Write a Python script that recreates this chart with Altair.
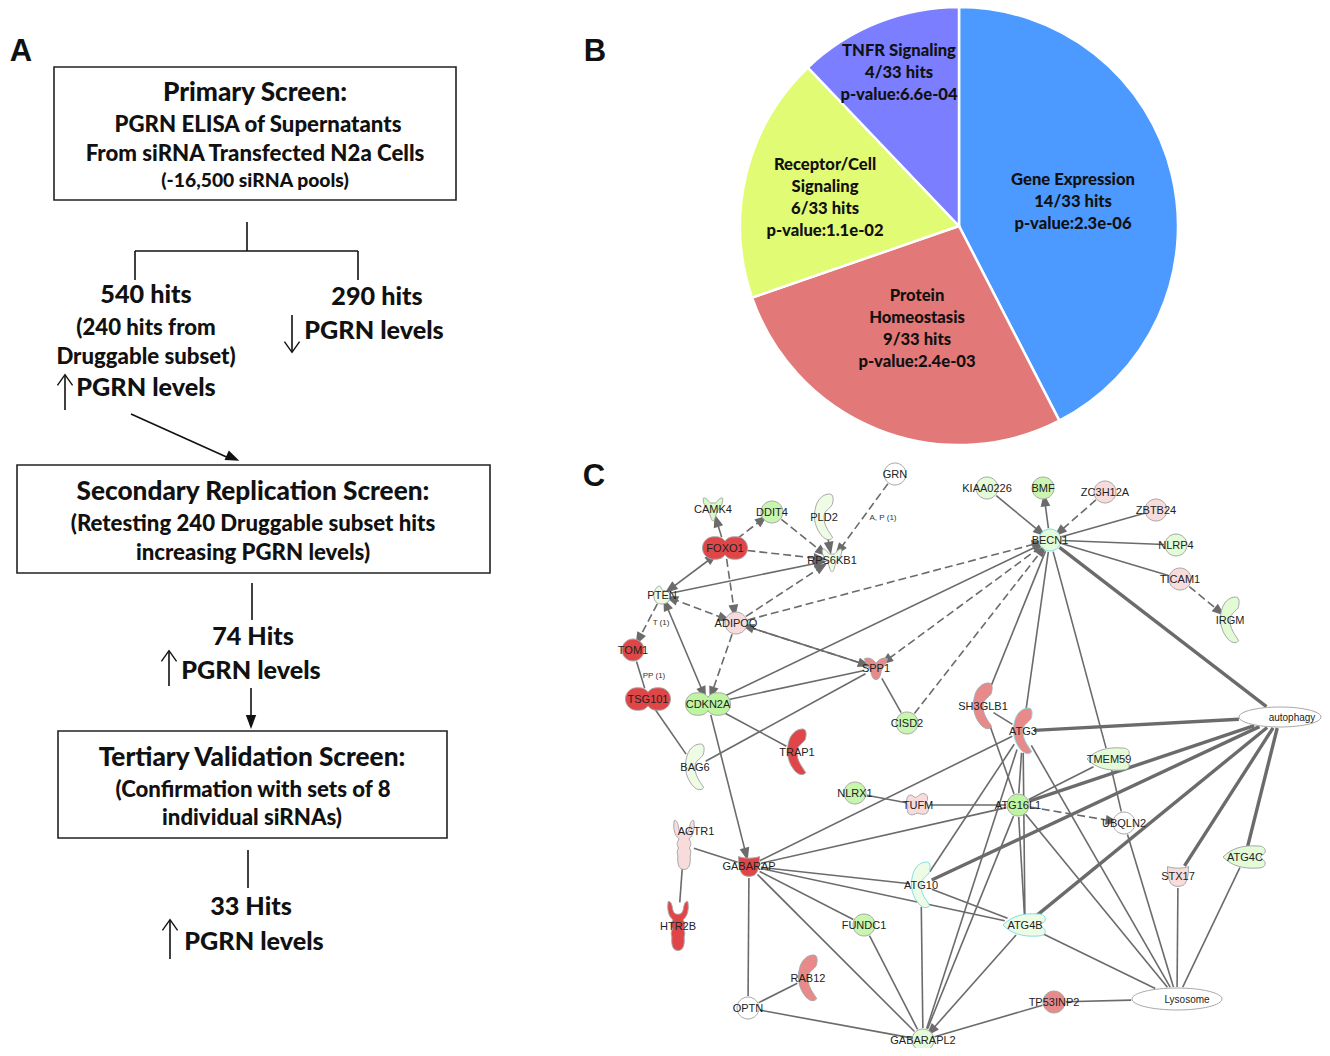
import math
import altair as alt
import pandas as pd

# ---------- panel A ----------
BOXES = [(54, 456, 67, 200), (17, 490, 465, 573), (58, 447, 731, 838)]
FLOW_LINES = [(247, 222, 247, 251), (135, 251, 358, 251), (135, 251, 135, 280), (358, 251, 358, 280),
              (65, 410, 65, 376), (292, 315, 292, 351), (131, 414, 231, 459), (252, 583, 252, 620),
              (169, 686, 169, 652), (251, 688, 251, 722), (248, 850, 248, 888), (170, 959, 170, 921)]
OPEN_HEADS = [(65, 380, 0), (292, 347, 180), (169, 656, 0), (170, 925, 0)]
SOLID_HEADS = [(233, 458, 114), (251, 722, 180)]
TITLE_TEXT = [("Primary Screen:", 255, 92), ("Secondary Replication Screen:", 253, 491),
              ("Tertiary Validation Screen:", 252, 757)]
HEAD_TEXT = [("540 hits", 146, 294), ("290 hits", 377, 296),
             ("74 Hits", 253, 636), ("33 Hits", 251, 906), ("PGRN levels", 146, 387), ("PGRN levels", 374, 330),
             ("PGRN levels", 251, 670), ("PGRN levels", 254, 941)]
SUB_TEXT = [("PGRN ELISA of Supernatants", 258, 124), ("From siRNA Transfected N2a Cells", 255, 153),
            ("(240 hits from", 146, 327), ("Druggable subset)", 146, 356),
            ("(Retesting 240 Druggable subset hits", 253, 523), ("increasing PGRN levels)", 253, 552),
            ("(Confirmation with sets of 8", 253, 789), ("individual siRNAs)", 252, 817)]
SMALL_TEXT = [("(-16,500 siRNA pools)", 255, 180)]
PANEL_TEXT = [("A", 21, 50), ("B", 595, 50), ("C", 594, 475)]

# ---------- panel B ----------
PIE_NAMES = ["Gene Expression", "Protein Homeostasis", "Receptor/Cell Signaling", "TNFR Signaling"]
PIE_HITS = [14, 9, 6, 4]
PIE_COLORS = ["#4c9aff", "#e37878", "#e2fb74", "#7a7eff"]
PIE_CENTER = (959, 226)
PIE_TEXT = [("Gene Expression", 1073, 179), ("14/33 hits", 1073, 201), ("p-value:2.3e-06", 1073, 223),
            ("Protein", 917, 295), ("Homeostasis", 917, 317), ("9/33 hits", 917, 339), ("p-value:2.4e-03", 917, 361),
            ("Receptor/Cell", 825, 164), ("Signaling", 825, 186), ("6/33 hits", 825, 208), ("p-value:1.1e-02", 825, 230),
            ("TNFR Signaling", 899, 50), ("4/33 hits", 899, 72), ("p-value:6.6e-04", 899, 94)]

# ---------- panel C ----------
R, P, PK, LP = "#e04648", "#e88a8a", "#f8dcdc", "#eefce6"
G, LG, W = "#bdf5a0", "#e4fbd8", "#ffffff"
NODES = {
    "GRN": (895, 474, "circle", W), "DDIT4": (772, 512, "circle", "#c8f6ae"), "ADIPOQ": (736, 623, "circle", PK),
    "TOM1": (633, 650, "circle", R), "CISD2": (907, 723, "circle", "#c8f6ae"), "KIAA0226": (987, 488, "circle", LG),
    "BMF": (1043, 488, "circle", "#c9f5b0"), "ZC3H12A": (1105, 492, "circle", PK), "ZBTB24": (1156, 510, "circle", PK),
    "BECN1": (1050, 540, "circle", LG), "NLRP4": (1176, 545, "circle", LG), "TICAM1": (1180, 579, "circle", PK),
    "NLRX1": (855, 793, "circle", "#c8f6ae"), "FUNDC1": (864, 925, "circle", "#c8f6ae"), "OPTN": (748, 1008, "circle", W),
    "GABARAPL2": (923, 1040, "circle", LG), "ATG16L1": (1018, 805, "circle", G), "UBQLN2": (1124, 823, "circle", W),
    "TP53INP2": (1054, 1002, "circle", P),
    "FOXO1": (725, 548, "dumbbell", R), "TSG101": (648, 699, "dumbbell", R), "CDKN2A": (708, 704, "dumbbell", G),
    "PLD2": (824, 517, "crescent", LP), "IRGM": (1230, 620, "crescent", "#e2fbd4"), "TRAP1": (797, 752, "crescent", R),
    "BAG6": (695, 767, "crescent", LP), "SH3GLB1": (983, 706, "crescent", P), "ATG3": (1023, 731, "crescent", P),
    "ATG10": (921, 885, "crescent", LP), "RAB12": (808, 978, "crescent", P),
    "CAMK4": (713, 509, "kinase", "#d8fac6"), "RPS6KB1": (832, 560, "kinase", LP), "SPP1": (876, 668, "butterfly", P),
    "AGTR1": (684, 845, "receptor", PK), "HTR2B": (678, 926, "receptor", R), "GABARAP": (749, 866, "cup", R),
    "STX17": (1178, 876, "cup", PK), "TMEM59": (1109, 759, "leaf", LG), "ATG4B": (1025, 925, "leaf", LP),
    "ATG4C": (1245, 857, "leaf", LG), "PTEN": (662, 595, "blob", LP), "TUFM": (918, 805, "peanut", PK),
    "autophagy": (1280, 717, "ellipse_small", W), "Lysosome": (1177, 999, "ellipse", W),
}
CYAN_RING = ["BECN1", "ATG3", "ATG10", "ATG4B"]
LABEL_OFFSET = {"AGTR1": (12, -14), "HTR2B": (0, 0), "autophagy": (12, 0), "Lysosome": (10, 0)}
EDGE_NOTES = [("A, P (1)", 883, 517), ("T (1)", 661, 622), ("PP (1)", 654, 675)]
SOLID = [("PTEN", "RPS6KB1"), ("PTEN", "FOXO1"), ("PTEN", "CDKN2A"), ("ADIPOQ", "SPP1"), ("CDKN2A", "BECN1"),
         ("CDKN2A", "SPP1"), ("CDKN2A", "TRAP1"), ("CDKN2A", "GABARAP"), ("BAG6", "SPP1"), ("TOM1", "TSG101"),
         ("TSG101", "BAG6"), ("SPP1", "CISD2"), ("KIAA0226", "BECN1"), ("BECN1", "BMF"), ("ZBTB24", "BECN1"),
         ("NLRP4", "BECN1"), ("TICAM1", "BECN1"), ("BECN1", "SH3GLB1"), ("BECN1", "ATG3"), ("BECN1", "TMEM59"),
         ("SH3GLB1", "ATG3"), ("SH3GLB1", "ATG16L1"), ("TMEM59", "ATG16L1"), ("TMEM59", "UBQLN2"), ("UBQLN2", "Lysosome"),
         ("ATG3", "Lysosome"), ("ATG16L1", "Lysosome"), ("STX17", "Lysosome"), ("ATG4C", "Lysosome"), ("ATG4B", "Lysosome"),
         ("TP53INP2", "Lysosome"), ("TP53INP2", "GABARAPL2"), ("ATG3", "ATG16L1"), ("ATG3", "ATG4B"), ("ATG3", "GABARAP"),
         ("ATG3", "GABARAPL2"), ("ATG3", "ATG10"), ("ATG16L1", "GABARAP"), ("ATG16L1", "GABARAPL2"), ("ATG16L1", "ATG4B"),
         ("NLRX1", "TUFM"), ("TUFM", "ATG16L1"), ("ATG10", "GABARAP"), ("ATG10", "GABARAPL2"), ("ATG10", "ATG4B"),
         ("ATG4B", "GABARAP"), ("FUNDC1", "GABARAP"), ("FUNDC1", "GABARAPL2"), ("GABARAP", "GABARAPL2"), ("GABARAP", "OPTN"),
         ("GABARAP", "AGTR1"), ("AGTR1", "HTR2B"), ("OPTN", "RAB12"), ("OPTN", "GABARAPL2"), ("ATG4B", "GABARAPL2"),
         ("FOXO1", "CAMK4"), ("PLD2", "RPS6KB1")]
DASHED = [("FOXO1", "DDIT4"), ("DDIT4", "RPS6KB1"), ("FOXO1", "RPS6KB1"), ("FOXO1", "ADIPOQ"), ("ADIPOQ", "RPS6KB1"),
          ("GRN", "RPS6KB1"), ("PTEN", "ADIPOQ"), ("PTEN", "TOM1"), ("ADIPOQ", "CDKN2A"), ("ADIPOQ", "SPP1"),
          ("ADIPOQ", "BECN1"), ("CISD2", "BECN1"), ("BECN1", "SPP1"), ("ZC3H12A", "BECN1"), ("TICAM1", "IRGM"),
          ("ATG16L1", "UBQLN2")]
THICK = [("BECN1", "autophagy"), ("ATG3", "autophagy"), ("ATG16L1", "autophagy"), ("ATG10", "autophagy"),
         ("ATG4B", "autophagy"), ("STX17", "autophagy"), ("ATG4C", "autophagy")]
ARROWS = [("PTEN", "RPS6KB1"), ("PTEN", "FOXO1"), ("FOXO1", "PTEN"), ("PTEN", "CDKN2A"), ("CDKN2A", "PTEN"),
          ("ADIPOQ", "SPP1"), ("SPP1", "ADIPOQ"), ("CDKN2A", "BECN1"), ("CDKN2A", "GABARAP"), ("KIAA0226", "BECN1"),
          ("BECN1", "BMF"), ("ATG4B", "GABARAPL2"), ("FOXO1", "CAMK4"), ("PLD2", "RPS6KB1"), ("FOXO1", "DDIT4"),
          ("DDIT4", "RPS6KB1"), ("FOXO1", "RPS6KB1"), ("FOXO1", "ADIPOQ"), ("ADIPOQ", "RPS6KB1"), ("GRN", "RPS6KB1"),
          ("PTEN", "ADIPOQ"), ("ADIPOQ", "PTEN"), ("PTEN", "TOM1"), ("ADIPOQ", "CDKN2A"), ("ADIPOQ", "BECN1"),
          ("CISD2", "BECN1"), ("BECN1", "SPP1"), ("ZC3H12A", "BECN1"), ("TICAM1", "IRGM"), ("ATG16L1", "UBQLN2")]

ELLIPSE = "M-1,0 C-1,-0.135 -0.55,-0.244 0,-0.244 C0.55,-0.244 1,-0.135 1,0 C1,0.135 0.55,0.244 0,0.244 C-0.55,0.244 -1,0.135 -1,0 Z"
SHAPES = {
    "crescent": "M0.24,-1 C0.42,-1 0.42,-0.75 0.36,-0.55 C0.26,-0.35 0,-0.3 0,0 C0,0.4 0.2,0.6 0.38,0.9 C0.25,1.05 0.03,1 -0.15,0.75 C-0.45,0.35 -0.45,-0.1 -0.37,-0.4 C-0.3,-0.75 -0.05,-1 0.24,-1 Z",
    "dumbbell": "M0,-0.3 C0.15,-0.5 0.3,-0.5 0.5,-0.5 C0.78,-0.5 1,-0.28 1,0 C1,0.28 0.78,0.5 0.5,0.5 C0.3,0.5 0.15,0.5 0,0.3 C-0.15,0.5 -0.3,0.5 -0.5,0.5 C-0.78,0.5 -1,0.28 -1,0 C-1,-0.28 -0.78,-0.5 -0.5,-0.5 C-0.3,-0.5 -0.15,-0.5 0,-0.3 Z",
    "kinase": "M-0.8,-0.9 C-0.5,-1 -0.4,-0.6 -0.2,-0.5 L0.2,-0.5 C0.4,-0.6 0.5,-1 0.8,-0.9 C0.9,-0.4 0.5,-0.1 0.3,0.3 C0.2,0.7 0.1,1 0,1 C-0.1,1 -0.2,0.7 -0.3,0.3 C-0.5,-0.1 -0.9,-0.4 -0.8,-0.9 Z",
    "butterfly": "M-1,-0.8 C-0.6,-1 -0.2,-0.7 0,-0.4 C0.2,-0.7 0.6,-1 1,-0.8 C0.9,-0.3 0.5,0 0.45,0.3 C0.4,0.6 0.3,1 0,1 C-0.3,1 -0.4,0.6 -0.45,0.3 C-0.5,0 -0.9,-0.3 -1,-0.8 Z",
    "receptor": "M-0.4,-1 C-0.3,-1.02 -0.25,-0.9 -0.22,-0.7 C-0.18,-0.5 -0.1,-0.48 0,-0.48 C0.1,-0.48 0.18,-0.5 0.22,-0.7 C0.25,-0.9 0.3,-1.02 0.4,-1 C0.45,-0.7 0.4,-0.4 0.2,-0.25 C0.3,-0.1 0.3,0 0.22,0.12 C0.3,0.25 0.28,0.35 0.25,0.45 C0.28,0.8 0.2,1 0,1 C-0.2,1 -0.28,0.8 -0.25,0.45 C-0.28,0.35 -0.3,0.25 -0.22,0.12 C-0.3,0 -0.3,-0.1 -0.2,-0.25 C-0.4,-0.4 -0.45,-0.7 -0.4,-1 Z",
    "cup": "M-1,-0.9 C-0.5,-0.7 0.5,-0.7 1,-0.9 C1,-0.2 0.9,0.5 0.6,0.8 C0.3,1.05 -0.3,1.05 -0.6,0.8 C-0.9,0.5 -1,-0.2 -1,-0.9 Z",
    "leaf": "M-1,0 C-0.6,-0.4 -0.1,-0.55 0.6,-0.5 C1,-0.5 1,-0.15 0.75,-0.08 L0.7,0 L0.75,0.08 C1,0.2 1,0.5 0.6,0.5 C-0.1,0.55 -0.6,0.4 -1,0 Z",
    "blob": "M-0.9,0.2 C-1,-0.3 -0.6,-1 -0.3,-1 C-0.1,-1 -0.1,-0.5 0.2,-0.5 C0.7,-0.5 1,-0.1 0.9,0.3 C0.8,0.9 0.3,1 -0.1,1 C-0.5,1 -0.85,0.7 -0.9,0.2 Z",
    "peanut": "M-1,-0.3 C-1,-0.9 -0.6,-1 -0.35,-0.7 C-0.1,-0.55 0,-0.9 0.4,-1 C0.9,-1 0.9,-0.5 0.75,-0.3 C1,0.1 1,0.8 0.5,0.8 C0.2,0.85 0,0.6 -0.2,0.75 C-0.6,1 -1,0.8 -0.9,0.3 C-0.8,0.1 -1,0 -1,-0.3 Z",
    "ellipse": ELLIPSE, "ellipse_small": ELLIPSE,
    "circle": "M-1,0 C-1,-0.55 -0.55,-1 0,-1 C0.55,-1 1,-0.55 1,0 C1,0.55 0.55,1 0,1 C-0.55,1 -1,0.55 -1,0 Z",
}
GLYPH_SPAN = {"crescent": 46, "dumbbell": 45, "kinase": 24, "butterfly": 23, "receptor": 49, "cup": 21, "leaf": 44,
              "blob": 18, "peanut": 23, "ellipse": 90, "ellipse_small": 82, "circle": 22}
EXTENT = {"crescent": (11, 22), "dumbbell": (23, 11), "kinase": (12, 12), "butterfly": (12, 12), "receptor": (10, 24),
          "cup": (12, 12), "leaf": (22, 11), "blob": (10, 10), "peanut": (12, 12), "ellipse": (46, 12),
          "ellipse_small": (42, 11), "circle": (12, 12)}

XS = alt.Scale(domain=[8, 1322], nice=False, zero=False)
YS = alt.Scale(domain=[8, 1048], nice=False, zero=False, reverse=True)
GRAY = "#6b6b6b"
X = alt.X("x:Q", scale=XS, axis=None)
Y = alt.Y("y:Q", scale=YS, axis=None)


def text_layer(rows, size, font, weight="bold", color="#111111", dy=0):
    df = pd.DataFrame(rows, columns=["t", "x", "y"])
    return alt.Chart(df).mark_text(fontSize=size, font=font, fontWeight=weight, align="center",
                                   baseline="middle", color=color, dy=dy).encode(x=X, y=Y, text="t:N")


def seg_layer(rows, width, color, dash=None):
    df = pd.DataFrame(rows, columns=["x", "y", "x2", "y2"])
    kw = {"strokeDash": dash} if dash else {}
    return alt.Chart(df).mark_rule(strokeWidth=width, color=color, **kw).encode(
        x=X, y=Y, x2="x2:Q", y2="y2:Q")


def head_layer(rows, path, size, filled, color):
    df = pd.DataFrame(rows, columns=["x", "y", "a"])
    return alt.Chart(df).mark_point(shape=path, size=size, filled=filled, opacity=1, color=color,
                                    strokeWidth=1.4).encode(x=X, y=Y, angle=alt.Angle("a:Q", scale=None))


def trim(n, ox, oy):
    x, y, kind, _ = NODES[n]
    dx, dy = ox - x, oy - y
    hw, hh = EXTENT[kind]
    t = 1 / max(1e-6, math.hypot(dx / hw, dy / hh))
    return x + dx * t, y + dy * t


def segment(a, b):
    ax, ay = NODES[a][:2]
    bx, by = NODES[b][:2]
    return (*trim(a, bx, by), *trim(b, ax, ay))


def arrow(a, b):
    x1, y1, x2, y2 = segment(a, b)
    return x2, y2, (math.degrees(math.atan2(x2 - x1, y1 - y2)) + 360) % 360


box_df = pd.DataFrame(BOXES, columns=["x", "x2", "y", "y2"])
boxes = alt.Chart(box_df).mark_rect(fillOpacity=0, stroke="#222222", strokeWidth=1.6).encode(x=X, x2="x2:Q", y=Y, y2="y2:Q")

pie_df = pd.DataFrame({"name": PIE_NAMES, "hits": PIE_HITS, "col": PIE_COLORS, "k": range(4),
                       "x": PIE_CENTER[0], "y": PIE_CENTER[1]})
pie = alt.Chart(pie_df).mark_arc(outerRadius=219, stroke="#ffffff", strokeWidth=2.5).encode(
    x=X, y=Y, theta=alt.Theta("hits:Q", stack=True), order=alt.Order("k:Q"),
    fill=alt.Fill("col:N", scale=None))

head_path = "M0,-1 L0.75,1 L-0.75,1 Z"
layers = [boxes, seg_layer(FLOW_LINES, 1.6, "#111111"),
          head_layer(OPEN_HEADS, "M-1,0.7 L0,-0.7 L1,0.7", 230, False, "#111111"),
          head_layer(SOLID_HEADS, head_path, 190, True, "#111111"),
          text_layer(TITLE_TEXT, 26.2, "Lato", 900, dy=1), text_layer(HEAD_TEXT, 25.2, "Lato", 900, dy=1),
          text_layer(SUB_TEXT, 22.2, "Lato", 900, dy=1),
          text_layer(SMALL_TEXT, 19.3, "Lato", 900, dy=1), text_layer(PANEL_TEXT, 31, "Liberation Sans", dy=2),
          pie, text_layer(PIE_TEXT, 16.6, "Lato", 900, dy=1),
          seg_layer([segment(*e) for e in SOLID], 1.6, GRAY),
          seg_layer([segment(*e) for e in DASHED], 1.6, GRAY, [8, 4]),
          seg_layer([segment(*e) for e in THICK], 3.4, GRAY),
          head_layer([arrow(*e) for e in ARROWS], head_path, 170, True, GRAY)]

for kind, span in GLYPH_SPAN.items():
    rows = [(n, v[0], v[1], v[3], "#7fdfe6" if n in CYAN_RING else "#a8a8a8")
            for n, v in NODES.items() if v[2] == kind]
    df = pd.DataFrame(rows, columns=["n", "x", "y", "f", "s"])
    layers.append(alt.Chart(df).mark_point(shape=SHAPES[kind], size=span ** 2, filled=True, opacity=1, strokeWidth=1).encode(
        x=X, y=Y, fill=alt.Fill("f:N", scale=None), stroke=alt.Stroke("s:N", scale=None)))

labels = [(n, v[0] + LABEL_OFFSET.get(n, (0, 0))[0], v[1] + LABEL_OFFSET.get(n, (0, 0))[1])
          for n, v in NODES.items() if not v[2].startswith("ellipse")]
ell_labels = [(n, v[0] + LABEL_OFFSET[n][0], v[1]) for n, v in NODES.items() if v[2].startswith("ellipse")]
layers += [text_layer(labels, 11, "Liberation Sans", "normal", "#222222", dy=1),
           text_layer(ell_labels, 10, "Liberation Sans", "normal", "#222222", dy=1),
           text_layer(EDGE_NOTES, 8, "Liberation Sans", "normal", "#333333", dy=1)]

chart = alt.layer(*layers).resolve_scale(theta="independent").properties(
    width=1314, height=1040, padding=0, autosize=alt.AutoSizeParams(type="none"),
    background="#ffffff").configure_view(stroke=None)
chart.save("out.html", embed_options={"renderer": "svg", "actions": False})
